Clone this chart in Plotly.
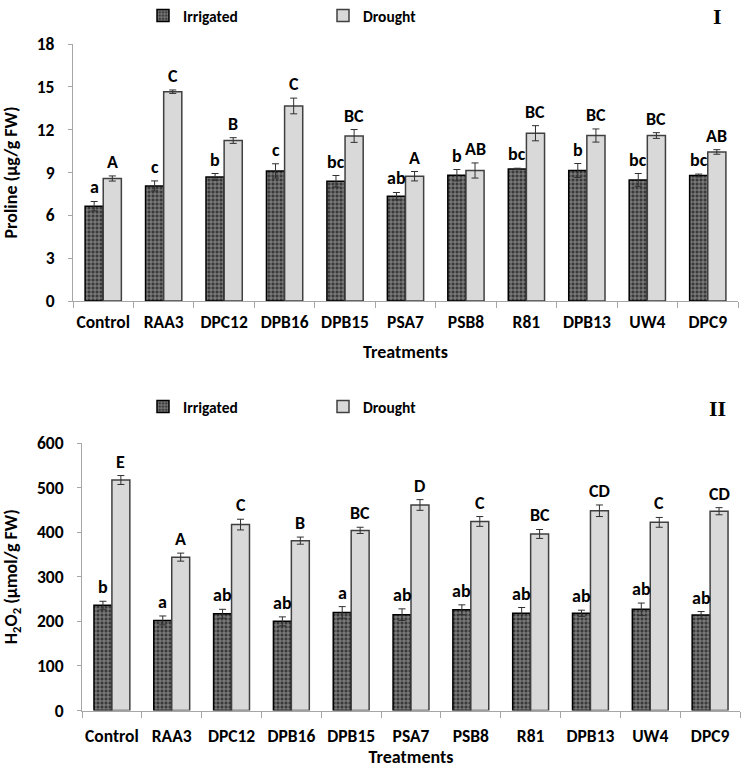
import plotly.graph_objects as go

treatments = ["Control", "RAA3", "DPC12", "DPB16", "DPB15", "PSA7", "PSB8", "R81", "DPB13", "UW4", "DPC9"]

proline_irr = [6.64, 8.06, 8.69, 9.11, 8.39, 7.34, 8.81, 9.25, 9.14, 8.48, 8.79]
proline_irr_err = [0.33, 0.35, 0.24, 0.50, 0.40, 0.26, 0.40, 0.05, 0.49, 0.45, 0.10]
proline_dro = [8.58, 14.66, 11.24, 13.66, 11.56, 8.74, 9.14, 11.75, 11.59, 11.59, 10.44]
proline_dro_err = [0.18, 0.12, 0.20, 0.55, 0.45, 0.33, 0.53, 0.53, 0.46, 0.20, 0.16]
proline_irr_letters = ["a", "c", "b", "c", "bc", "ab", "b", "bc", "b", "bc", "bc"]
proline_dro_letters = ["A", "C", "B", "C", "BC", "A", "AB", "BC", "BC", "BC", "AB"]

h2o2_irr = [236, 202, 217, 200, 220, 215, 226, 218, 218, 227, 214]
h2o2_irr_err = [9, 10, 10, 10, 13, 13, 11, 13, 7, 14, 8]
h2o2_dro = [517, 344, 417, 381, 404, 461, 424, 396, 448, 422, 447]
h2o2_dro_err = [10, 9, 12, 8, 7, 12, 11, 10, 13, 11, 8]
h2o2_irr_letters = ["b", "a", "ab", "ab", "a", "ab", "ab", "ab", "ab", "ab", "ab"]
h2o2_dro_letters = ["E", "A", "C", "B", "BC", "D", "C", "BC", "CD", "C", "CD"]

W, H = 745, 773
FONT = "Carlito, Lato, 'Open Sans', sans-serif"
AX = "#a6a6a6"

irr_marker = dict(color="#3a3a3a",
                  pattern=dict(shape="+", fgcolor="white", bgcolor="#3a3a3a", size=4, solidity=0.35),
                  line=dict(color="black", width=1.5))
dro_marker = dict(color="#d9d9d9", line=dict(color="#404040", width=1.5))
err_style = dict(type="data", symmetric=True, thickness=1, width=3.5, color="#303030")

fig = go.Figure()

panels = [
    ("x", "y", "legend", proline_irr, proline_irr_err, proline_dro, proline_dro_err,
     proline_irr_letters, proline_dro_letters),
    ("x2", "y2", "legend2", h2o2_irr, h2o2_irr_err, h2o2_dro, h2o2_dro_err,
     h2o2_irr_letters, h2o2_dro_letters),
]

letter_font = dict(family=FONT, size=18, color="black", weight="bold")
annotations = []
for xa, ya, lg, irr, irr_e, dro, dro_e, l_irr, l_dro in panels:
    fig.add_trace(go.Bar(x=treatments, y=irr, name="Irrigated", marker=irr_marker,
                         error_y=dict(array=irr_e, **err_style), xaxis=xa, yaxis=ya, legend=lg))
    fig.add_trace(go.Bar(x=treatments, y=dro, name="Drought", marker=dro_marker,
                         error_y=dict(array=dro_e, **err_style), xaxis=xa, yaxis=ya, legend=lg))
    for i in range(len(treatments)):
        annotations.append(dict(x=i - 0.15, y=irr[i] + irr_e[i], xref=xa, yref=ya, text=l_irr[i],
                                showarrow=False, yanchor="bottom", yshift=1, font=letter_font))
        annotations.append(dict(x=i + 0.15, y=dro[i] + dro_e[i], xref=xa, yref=ya, text=l_dro[i],
                                showarrow=False, yanchor="bottom", yshift=1, font=letter_font))

roman_font = dict(family="'Liberation Serif', 'Times New Roman', serif", size=22, color="black", weight="bold")
annotations.append(dict(x=717 / W, y=1 - 17 / H, xref="paper", yref="paper", text="I", showarrow=False,
                        xanchor="center", yanchor="middle", font=roman_font))
annotations.append(dict(x=717 / W, y=1 - 408 / H, xref="paper", yref="paper", text="II", showarrow=False,
                        xanchor="center", yanchor="middle", font=roman_font))

tickfont = dict(family=FONT, size=17.5, color="black", weight="bold")
titlefont = dict(family=FONT, size=18, color="black", weight="bold")

def xaxis(domain, anchor, label_gap, title_gap):
    return dict(domain=domain, anchor=anchor, type="category", showline=True, linecolor=AX, linewidth=1,
                ticks="outside", tickson="boundaries", ticklen=6, tickcolor=AX, showgrid=False,
                automargin=False, tickfont=tickfont, tickangle=0, ticklabelstandoff=label_gap,
                title=dict(text="Treatments", font=titlefont, standoff=title_gap))

def yaxis(domain, anchor, rng, dtick, title):
    return dict(domain=domain, anchor=anchor, range=rng, dtick=dtick, showline=True, linecolor=AX,
                linewidth=1, ticks="outside", ticklen=4, tickcolor=AX, showgrid=False, zeroline=False,
                automargin=False, tickfont=tickfont, ticklabelstandoff=10,
                title=dict(text=title, font=titlefont, standoff=16))

legend_common = dict(orientation="h", xanchor="left", yanchor="middle", entrywidth=135,
                     entrywidthmode="pixels", font=dict(family=FONT, size=15.5, color="black", weight="bold"),
                     bgcolor="rgba(0,0,0,0)", traceorder="normal")

fig.update_layout(
    width=W, height=H,
    margin=dict(l=0, r=0, t=0, b=0, autoexpand=False),
    paper_bgcolor="white", plot_bgcolor="white",
    barmode="group", bargap=0.4, bargroupgap=0,
    xaxis=xaxis([73 / W, 738 / W], "y", 5, 13),
    yaxis=yaxis([1 - 301 / H, 1 - 44 / H], "x", [0, 18], 3, "Proline (µg/g FW)"),
    xaxis2=xaxis([82 / W, 740 / W], "y2", 9, 2),
    yaxis2=yaxis([1 - 710.5 / H, 1 - 443 / H], "x2", [0, 600], 100, "H<sub>2</sub>O<sub>2</sub> (µmol/g FW)"),
    legend=dict(x=143 / W, y=1 - 16 / H, **legend_common),
    legend2=dict(x=143 / W, y=1 - 407 / H, **legend_common),
    annotations=annotations,
    showlegend=True,
)

fig.write_html("out.html", config={"displayModeBar": False},
               post_script="document.body.style.margin='0';")
